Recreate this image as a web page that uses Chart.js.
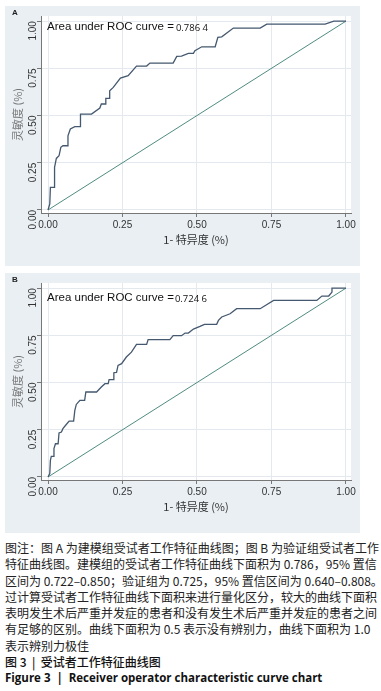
<!DOCTYPE html>
<html>
<head>
<meta charset="utf-8">
<script src="https://cdn.jsdelivr.net/npm/chart.js@4.4.1/dist/chart.umd.min.js"></script>
<style>
  body { margin: 0; background: #fff; width: 381px; height: 691px; position: relative; overflow: hidden; }
  .panel { position: absolute; left: 5px; width: 355px; height: 260px; background: #e9eff3; }
  .panel canvas { position: absolute; left: 0; top: 0; }
  .tag { position: absolute; left: 7px; top: 2px; font: bold 8px "Liberation Sans", Arial, sans-serif; color: #222; }
  #caption { position: absolute; left: 5px; top: 540px; width: 365px; font-family: "Noto Sans CJK SC", sans-serif; font-size: 12px; color: #222; }
  #caption .ln { height: 16.3px; line-height: 16.3px; text-align: justify; text-align-last: justify; white-space: nowrap; }
  #caption .last { text-align-last: left; }
  #caption .t1 { font-weight: 500; color: #111; }
  #caption .t2 { font-family: "Open Sans", sans-serif; font-weight: 700; font-size: 11.5px; color: #111; }
</style>
</head>
<body>
<div class="panel" style="top:6px"><canvas id="rocA" width="355" height="260"></canvas><div class="tag">A</div></div>
<div class="panel" style="top:273px"><canvas id="rocB" width="355" height="260"></canvas><div class="tag">B</div></div>
<div id="caption">
  <div class="ln">图注：图 A 为建模组受试者工作特征曲线图；图 B 为验证组受试者工作</div>
  <div class="ln">特征曲线图。建模组的受试者工作特征曲线下面积为 0.786，95% 置信</div>
  <div class="ln">区间为 0.722–0.850；验证组为 0.725，95% 置信区间为 0.640–0.808。通</div>
  <div class="ln">过计算受试者工作特征曲线下面积来进行量化区分，较大的曲线下面积</div>
  <div class="ln">表明发生术后严重并发症的患者和没有发生术后严重并发症的患者之间</div>
  <div class="ln">有足够的区别。曲线下面积为 0.5 表示没有辨别力，曲线下面积为 1.0</div>
  <div class="ln last">表示辨别力极佳</div>
  <div class="ln last t1">图 3 &nbsp;|&nbsp; 受试者工作特征曲线图</div>
  <div class="ln last t2">Figure 3 &nbsp;|&nbsp; Receiver operator characteristic curve chart</div>
</div>
<script>
// ROC points: 1 - specificity, sensitivity
const fprA = [0, 0.006, 0.008, 0.022, 0.022, 0.028, 0.037, 0.043, 0.050, 0.065, 0.067, 0.075, 0.090, 0.109, 0.109, 0.146, 0.174, 0.179, 0.194, 0.194, 0.207, 0.207, 0.219, 0.243, 0.269, 0.297, 0.331, 0.342, 0.420, 0.432, 0.448, 0.471, 0.488, 0.493, 0.516, 0.561, 0.570, 0.583, 0.622, 0.712, 0.734, 0.930, 0.959, 1];
const tprA = [0, 0.032, 0.120, 0.120, 0.226, 0.273, 0.287, 0.332, 0.340, 0.340, 0.393, 0.429, 0.441, 0.441, 0.508, 0.508, 0.540, 0.561, 0.561, 0.591, 0.591, 0.631, 0.649, 0.698, 0.711, 0.762, 0.762, 0.778, 0.778, 0.813, 0.815, 0.829, 0.829, 0.843, 0.864, 0.864, 0.914, 0.917, 0.963, 0.963, 0.984, 0.984, 1, 1];

const fprB = [0, 0.006, 0.008, 0.011, 0.019, 0.020, 0.025, 0.034, 0.037, 0.045, 0.050, 0.062, 0.071, 0.086, 0.090, 0.095, 0.107, 0.123, 0.127, 0.163, 0.179, 0.191, 0.202, 0.205, 0.219, 0.221, 0.230, 0.235, 0.247, 0.263, 0.280, 0.297, 0.331, 0.336, 0.409, 0.420, 0.448, 0.460, 0.471, 0.488, 0.510, 0.525, 0.566, 0.572, 0.583, 0.611, 0.633, 0.712, 0.757, 0.902, 0.919, 0.942, 0.953, 0.953, 1];
const tprB = [0, 0.018, 0.088, 0.109, 0.109, 0.150, 0.176, 0.176, 0.233, 0.238, 0.256, 0.279, 0.296, 0.296, 0.353, 0.384, 0.406, 0.406, 0.450, 0.450, 0.476, 0.494, 0.494, 0.515, 0.515, 0.552, 0.554, 0.591, 0.600, 0.635, 0.661, 0.702, 0.702, 0.727, 0.727, 0.748, 0.748, 0.762, 0.762, 0.783, 0.797, 0.808, 0.808, 0.829, 0.847, 0.864, 0.891, 0.891, 0.935, 0.935, 0.958, 0.958, 0.979, 1, 1];

const refLine = [0, 1];
const tickVals = [0, 0.25, 0.5, 0.75, 1];
const aucA = '0.786 4';
const aucB = '0.724 6';

function toPoints(xs, ys) {
    return xs.map((x, i) => ({ x: x, y: ys[i] }));
}

const plotBg = {
    id: 'plotBg',
    beforeDraw(chart) {
        const a = chart.chartArea;
        const ctx = chart.ctx;
        ctx.save();
        ctx.fillStyle = '#ffffff';
        ctx.fillRect(a.left, a.top, a.right - a.left, a.bottom - a.top);
        ctx.restore();
    }
};

const aucLabel = {
    id: 'aucLabel',
    afterDatasetsDraw(chart, args, opts) {
        const ctx = chart.ctx;
        const x = chart.scales.x.getPixelForValue(0) - 1;
        const y = opts.y;
        ctx.save();
        ctx.textBaseline = 'middle';
        ctx.fillStyle = '#111';
        ctx.font = '11.5px "Liberation Sans", Arial, sans-serif';
        const head = 'Area under ROC curve =';
        ctx.fillText(head, x, y);
        const w = ctx.measureText(head).width;
        ctx.font = '9.5px "Open Sans", sans-serif';
        ctx.fillText(opts.text, x + w + opts.gap, y + 1);
        ctx.restore();
    }
};

function makeRoc(id, fpr, tpr, auc, labelY, gap) {
    const ctx = document.getElementById(id).getContext('2d');
    return new Chart(ctx, {
        type: 'scatter',
        data: {
            datasets: [{
                data: toPoints(fpr, tpr),
                showLine: true,
                borderColor: '#44586f',
                borderWidth: 1.3,
                pointRadius: 0,
                tension: 0
            }, {
                data: toPoints(refLine, refLine),
                showLine: true,
                borderColor: '#4f8c80',
                borderWidth: 1,
                pointRadius: 0
            }]
        },
        options: {
            responsive: false,
            animation: false,
            layout: { padding: { top: 9, right: 9, left: 0, bottom: 20 } },
            plugins: {
                legend: { display: false },
                tooltip: { enabled: false },
                aucLabel: { text: auc, y: labelY, gap: gap }
            },
            scales: {
                x: {
                    type: 'linear',
                    min: -0.0235,
                    max: 1.0168,
                    afterBuildTicks: s => { s.ticks = tickVals.map(v => ({ value: v })); },
                    afterFit: s => { s.height = 33; },
                    grid: { color: '#e3e9ee', lineWidth: 1, tickLength: 4, tickColor: '#777' },
                    border: { color: '#777', width: 1 },
                    ticks: {
                        color: '#333',
                        padding: 2,
                        font: { family: '"Liberation Sans", Arial, sans-serif', size: 10 },
                        callback: v => v.toFixed(2),
                        maxRotation: 0
                    },
                    title: {
                        display: true,
                        text: '1- 特异度 (%)',
                        color: '#333',
                        padding: { top: 4, bottom: 0 },
                        font: { family: '"Noto Sans CJK SC", sans-serif', size: 11 }
                    }
                },
                y: {
                    type: 'linear',
                    min: -0.016,
                    max: 1.027,
                    afterBuildTicks: s => { s.ticks = tickVals.map(v => ({ value: v })); },
                    afterFit: s => { s.width = 36; },
                    grid: { color: '#e3e9ee', lineWidth: 1, tickLength: 4, tickColor: '#777' },
                    border: { color: '#777', width: 1 },
                    ticks: {
                        color: '#333',
                        padding: 4,
                        minRotation: 90,
                        maxRotation: 90,
                        font: { family: '"Liberation Sans", Arial, sans-serif', size: 10 },
                        callback: v => v.toFixed(2)
                    },
                    title: {
                        display: true,
                        text: '灵敏度 (%)',
                        color: '#777',
                        padding: { top: 6, bottom: 0 },
                        font: { family: '"Noto Sans CJK SC", sans-serif', size: 11 }
                    }
                }
            }
        },
        plugins: [plotBg, aucLabel]
    });
}

makeRoc('rocA', fprA, tprA, aucA, 21, 2);
makeRoc('rocB', fprB, tprB, aucB, 25, 1);
</script>
</body>
</html>
